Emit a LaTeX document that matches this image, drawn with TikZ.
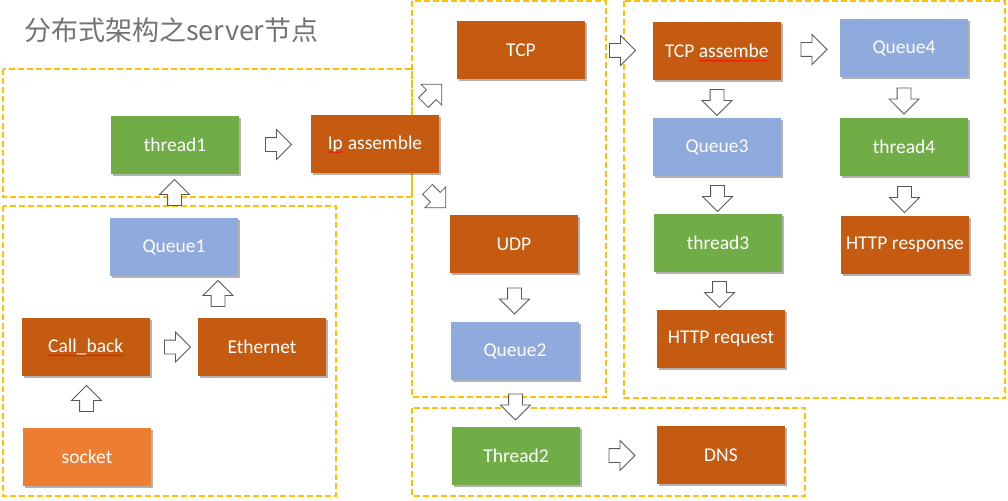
\documentclass[tikz,border=0pt]{standalone}
\usepackage{fontspec}
\setmainfont{Carlito}
\newfontfamily\cjkfont{Noto Sans CJK SC}
\usepackage{xcolor}
\usepackage{tikz}
\usetikzlibrary{calc,positioning,shapes.arrows,shadows,decorations.pathmorphing}
\definecolor{boxOrange}{HTML}{C55A11}
\definecolor{boxGreen}{HTML}{70AD47}
\definecolor{boxBlue}{HTML}{8FAADC}
\definecolor{srcOrange}{HTML}{ED7D31}
\definecolor{frameGold}{HTML}{FFC000}
\definecolor{arrowGray}{HTML}{595959}
\definecolor{titleGray}{HTML}{737373}

% red spell-check wave under a word
\newsavebox\spellbox
\newlength\spellwd
\newcommand\spellmark[1]{\sbox\spellbox{#1}\setlength\spellwd{\wd\spellbox}%
  \rlap{\usebox\spellbox}\smash{\tikz[baseline=0pt]\draw[red, line width=0.5pt,
    decorate, decoration={snake, amplitude=0.7pt, segment length=3pt}]
    (0pt,-3pt) -- (\spellwd,-3pt);}}

\begin{document}
\begin{tikzpicture}[x=1pt, y=-1pt,
  proc/.style={fill=boxOrange, text=white, minimum width=128pt, minimum height=58pt,
    inner sep=2pt, font=\fontsize{19.5}{23}\selectfont,
    drop shadow={shadow xshift=2pt, shadow yshift=-2pt, opacity=0.3, fill=black}},
  queue/.style={proc, fill=boxBlue},
  worker/.style={proc, fill=boxGreen},
  source/.style={proc, fill=srcOrange},
  frame/.style={draw=frameGold, line width=2pt, dash pattern=on 6pt off 3pt},
  barrow/.style={single arrow, draw=arrowGray, fill=white, line width=0.8pt,
    minimum height=26pt, inner xsep=0pt, inner ysep=6.5pt,
    single arrow head extend=8pt},
  title/.style={font=\cjkfont\fontsize{27}{32}\selectfont, text=titleGray, inner sep=0pt},
]
\useasboundingbox (0,0) rectangle (1008,500);

% === Title ===
\node[title, anchor=base west] (title) at (24,41) {分布式架构之server节点};

% === Dashed groups ===
\draw[frame] (3,69) rectangle (412,197);
\draw[frame] (412,1.5) rectangle (606,397);
\draw[frame] (624,1.5) rectangle (1005,398);
\draw[frame] (3,206) rectangle (336,496);
\draw[frame] (412,408) rectangle (805,496);

% === Capture ===
\node[source] (sock) at (87,457) {socket};
\node[proc] (cb) at (86,347) {\spellmark{Call\_back}};
\node[proc] (eth) at (262,347) {Ethernet};
\node[queue] (q1) at (174,247) {Queue1};

% === IP ===
\node[worker] (th1) at (175,145) {thread1};
\node[proc] (ipa) at (375,144) {\spellmark{Ip} assemble};

% === TCP / UDP ===
\node[proc] (tcp) at (521,50) {TCP};
\node[proc] (udp) at (514,244) {UDP};
\node[queue] (q2) at (515,351) {Queue2};
\node[worker] (th2) at (516,456) {Thread2};
\node[proc] (dns) at (721,455) {DNS};

% === HTTP ===
\node[proc] (tcpa) at (717,51) {TCP \spellmark{assembe}};
\node[queue] (q3) at (717,147) {Queue3};
\node[worker] (th3) at (718,243) {thread3};
\node[proc] (req) at (721,339) {HTTP request};
\node[queue] (q4) at (904,48) {Queue4};
\node[worker] (th4) at (904,147) {thread4};
\node[proc] (resp) at (905,245) {HTTP response};

% === Block arrows ===
\foreach \a/\b in {sock/cb, eth/q1, q1/th1}
  \node[barrow, rotate=90] (up-\a) at ($(\a.north)!0.5!(\b.south)$) {};
\foreach \a/\b in {cb/eth, th1/ipa, tcp/tcpa, tcpa/q4, th2/dns}
  \node[barrow] (rt-\a) at ($(\a.east)!0.5!(\b.west)$) {};
\foreach \a/\b in {tcpa/q3, q3/th3, th3/req, q4/th4, th4/resp, udp/q2, q2/th2}
  \node[barrow, rotate=-90] (dn-\a) at ($(\a.south)!0.5!(\b.north)$) {};
\node[barrow, rotate=45] (ne-ipa) at ($(ipa.north east)+(-9,-19)$) {};
\node[barrow, rotate=-45] (se-ipa) at ($(ipa.south east)+(-5,23)$) {};

\end{tikzpicture}
\end{document}
